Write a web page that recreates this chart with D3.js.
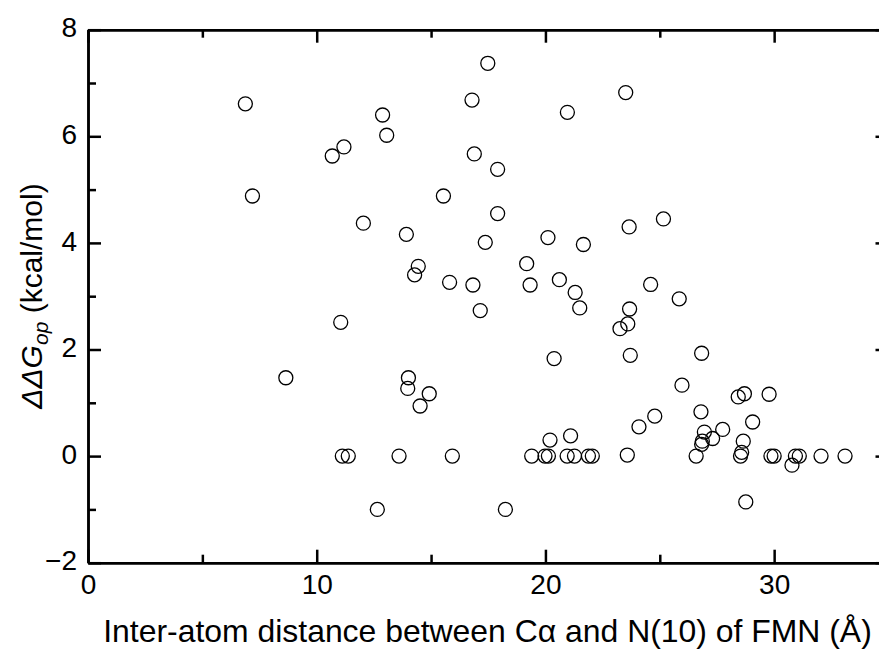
<!DOCTYPE html>
<html>
<head>
<meta charset="utf-8">
<script src="https://cdn.jsdelivr.net/npm/d3@7"></script>
<style>
  html, body { margin: 0; padding: 0; background: #fff; }
  svg { display: block; }
  text { font-family: "Liberation Sans", Arial, Helvetica, sans-serif; fill: #000; }
</style>
</head>
<body>
<div id="chart"></div>
<script>
// ---- data ----
const distance = [
  6.88, 7.19, 8.65, 10.68, 11.19, 11.05, 11.12, 11.38, 12.04, 12.65,
  12.88, 13.06, 13.60, 13.92, 14.44, 14.28, 14.01, 13.98, 14.92, 14.52,
  15.54, 15.81, 15.93, 16.79, 16.89, 16.83, 17.15, 17.37, 17.48, 17.91,
  17.91, 18.25, 19.18, 19.33, 19.40, 19.98, 20.13, 20.11, 20.20, 20.38,
  20.61, 20.96, 20.95, 21.27, 21.10, 21.30, 21.50, 21.66, 21.88, 22.05,
  23.26, 23.51, 23.58, 23.60, 23.66, 23.68, 23.71, 24.09, 24.60, 24.78,
  25.16, 25.85, 25.97, 26.59, 26.80, 26.83, 26.95, 26.86, 26.83, 27.31,
  27.75, 28.43, 28.70, 28.65, 28.58, 28.53, 28.76, 29.06, 29.78, 29.86,
  30.00, 30.78, 30.93, 31.10, 32.05, 33.10
];
const ddG = [
  6.61, 4.88, 1.47, 5.63, 5.80, 2.51, 0.00, 0.00, 4.37, -1.00,
  6.40, 6.02, 0.00, 4.16, 3.56, 3.40, 1.47, 1.27, 1.17, 0.94,
  4.88, 3.26, 0.00, 6.68, 5.67, 3.21, 2.73, 4.01, 7.37, 5.38,
  4.55, -1.00, 3.61, 3.21, 0.00, 0.00, 0.00, 4.10, 0.30, 1.83,
  3.31, 6.45, 0.00, 0.00, 0.38, 3.07, 2.78, 3.97, 0.00, 0.00,
  2.39, 6.82, 0.02, 2.48, 4.30, 2.76, 1.89, 0.55, 3.22, 0.75,
  4.45, 2.95, 1.33, 0.00, 0.83, 1.93, 0.45, 0.28, 0.22, 0.33,
  0.50, 1.11, 1.17, 0.28, 0.07, 0.00, -0.86, 0.64, 1.16, 0.00,
  0.00, -0.17, 0.00, 0.00, 0.00, 0.00
];
const xMajorTicks = [0, 10, 20, 30];
const xMinorTicks = [5, 15, 25];
const yMajorTicks = [-2, 0, 2, 4, 6, 8];
const yMinorTicks = [-1, 1, 3, 5, 7];
const xTitle = "Inter-atom distance between C\u03b1 and N(10) of FMN (\u00c5)";

// ---- layout ----
const W = 879, H = 650;
const mLeft = 88, mTop = 29.7, plotW = 800.5, plotH = 533;

const svg = d3.select("#chart").append("svg")
  .attr("width", W).attr("height", H)
  .style("overflow", "hidden");

const x = d3.scaleLinear().domain([0, 35]).range([mLeft, mLeft + plotW]);
const y = d3.scaleLinear().domain([-2, 8]).range([mTop + plotH, mTop]);

const axisW = 2.5;
function styleAxis(g) {
  g.selectAll("path.domain").attr("stroke", "#000").attr("stroke-width", axisW);
  g.selectAll(".tick line").attr("stroke", "#000").attr("stroke-width", axisW);
  g.selectAll(".tick text").style("font-size", "28px").attr("fill", "#000")
    .style("font-family", "'Liberation Sans', Arial, Helvetica, sans-serif");
}

// bottom
const gB = svg.append("g").attr("transform", `translate(0,${mTop + plotH})`)
  .call(d3.axisBottom(x).tickValues(xMajorTicks).tickSize(-13).tickSizeOuter(0).tickPadding(11.4).tickFormat(d3.format("d")));
styleAxis(gB);
const gBm = svg.append("g").attr("transform", `translate(0,${mTop + plotH})`)
  .call(d3.axisBottom(x).tickValues(xMinorTicks).tickSize(-8).tickSizeOuter(0).tickFormat(""));
styleAxis(gBm);
// top
const gT = svg.append("g").attr("transform", `translate(0,${mTop})`)
  .call(d3.axisTop(x).tickValues(xMajorTicks).tickSize(-13).tickSizeOuter(0).tickFormat(""));
styleAxis(gT);
const gTm = svg.append("g").attr("transform", `translate(0,${mTop})`)
  .call(d3.axisTop(x).tickValues(xMinorTicks).tickSize(-8).tickSizeOuter(0).tickFormat(""));
styleAxis(gTm);
// left
const gL = svg.append("g").attr("transform", `translate(${mLeft},0)`)
  .call(d3.axisLeft(y).tickValues(yMajorTicks).tickSize(-13).tickSizeOuter(0).tickPadding(11).tickFormat(d3.format("d")));
styleAxis(gL);
gL.selectAll(".tick text").attr("dy", "0.26em");
const gLm = svg.append("g").attr("transform", `translate(${mLeft},0)`)
  .call(d3.axisLeft(y).tickValues(yMinorTicks).tickSize(-8).tickSizeOuter(0).tickFormat(""));
styleAxis(gLm);
// right
const gR = svg.append("g").attr("transform", `translate(${mLeft + plotW},0)`)
  .call(d3.axisRight(y).tickValues(yMajorTicks).tickSize(-13).tickSizeOuter(0).tickFormat(""));
styleAxis(gR);
const gRm = svg.append("g").attr("transform", `translate(${mLeft + plotW},0)`)
  .call(d3.axisRight(y).tickValues(yMinorTicks).tickSize(-8).tickSizeOuter(0).tickFormat(""));
styleAxis(gRm);

// points
const pts = distance.map((d, i) => ({ x: d, y: ddG[i] }));
svg.append("g").selectAll("circle").data(pts).join("circle")
  .attr("cx", d => x(d.x)).attr("cy", d => y(d.y)).attr("r", 7)
  .attr("fill", "none").attr("stroke", "#000").attr("stroke-width", 1.3);

// x title
const xt = svg.append("text")
  .attr("x", 487.5).attr("y", 642)
  .attr("text-anchor", "middle").style("font-size", "30px")
  .text(xTitle);
{
  const len = xt.node().getComputedTextLength();
  const fs = 30 * 769 / len;
  xt.style("font-size", fs + "px");
}

// y title
const yt = svg.append("text")
  .attr("transform", "translate(42,296) rotate(-90)")
  .attr("text-anchor", "middle").style("font-size", "30px");
yt.append("tspan").style("font-style", "italic").text("\u0394\u0394G");
yt.append("tspan").style("font-style", "italic").style("font-size", "21px").attr("dy", 6).text("op");
yt.append("tspan").attr("dy", -6).text(" (kcal/mol)");
</script>
</body>
</html>
